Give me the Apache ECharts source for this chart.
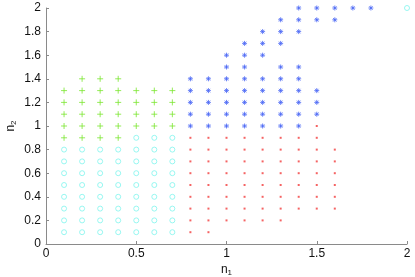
<!DOCTYPE html>
<html><head><meta charset="utf-8">
<script src="https://cdn.jsdelivr.net/npm/echarts@6/dist/echarts.min.js"></script>
<style>html,body{margin:0;padding:0;background:#fff}#c{width:415px;height:277px}</style>
</head><body><div id="c"></div>
<script>
// rows: [y, [x values]]
const cyanRows = [
  [0.1, [0.1,0.2,0.3,0.4,0.5,0.6,0.7]],
  [0.2, [0.1,0.2,0.3,0.4,0.5,0.6,0.7]],
  [0.3, [0.1,0.2,0.3,0.4,0.5,0.6,0.7]],
  [0.4, [0.1,0.2,0.3,0.4,0.5,0.6,0.7]],
  [0.5, [0.1,0.2,0.3,0.4,0.5,0.6,0.7]],
  [0.6, [0.1,0.2,0.3,0.4,0.5,0.6,0.7]],
  [0.7, [0.1,0.2,0.3,0.4,0.5,0.6,0.7]],
  [0.8, [0.1,0.2,0.3,0.4,0.5,0.6,0.7]],
  [0.9, [0.5,0.6,0.7]],
  [2.0, [2.0]]
];
const greenRows = [
  [0.9, [0.1,0.2,0.3,0.4]],
  [1.0, [0.1,0.2,0.3,0.4,0.5,0.6,0.7]],
  [1.1, [0.1,0.2,0.3,0.4,0.5,0.6,0.7]],
  [1.2, [0.1,0.2,0.3,0.4,0.5,0.6,0.7]],
  [1.3, [0.1,0.2,0.3,0.4,0.5,0.6,0.7]],
  [1.4, [0.2,0.3,0.4]]
];
const redRows = [
  [0.1, [0.8,0.9]],
  [0.2, [0.8,0.9,1.0,1.1,1.2,1.3]],
  [0.3, [0.8,0.9,1.0,1.1,1.2,1.3,1.4,1.5,1.6]],
  [0.4, [0.8,0.9,1.0,1.1,1.2,1.3,1.4,1.5,1.6]],
  [0.5, [0.8,0.9,1.0,1.1,1.2,1.3,1.4,1.5,1.6]],
  [0.6, [0.8,0.9,1.0,1.1,1.2,1.3,1.4,1.5,1.6]],
  [0.7, [0.8,0.9,1.0,1.1,1.2,1.3,1.4,1.5,1.6]],
  [0.8, [0.8,0.9,1.0,1.1,1.2,1.3,1.4,1.5,1.6]],
  [0.9, [0.8,0.9,1.0,1.1,1.2,1.3,1.4,1.5]],
  [1.0, [1.5]]
];
const blueRows = [
  [1.0, [0.8,0.9,1.0,1.1,1.2,1.3,1.4]],
  [1.1, [0.8,0.9,1.0,1.1,1.2,1.3,1.4,1.5]],
  [1.2, [0.8,0.9,1.0,1.1,1.2,1.3,1.4,1.5]],
  [1.3, [0.8,0.9,1.0,1.1,1.2,1.3,1.4,1.5]],
  [1.4, [0.8,0.9,1.0,1.1,1.2,1.3,1.4]],
  [1.5, [1.0,1.1,1.3,1.4]],
  [1.6, [1.0,1.1,1.2]],
  [1.7, [1.1,1.2,1.3]],
  [1.8, [1.2,1.3,1.4]],
  [1.9, [1.3,1.4,1.5,1.6]],
  [2.0, [1.4,1.5,1.6,1.7,1.8]]
];
const xTicks = [0, 0.5, 1, 1.5, 2];
const yTicks = [0, 0.2, 0.4, 0.6, 0.8, 1, 1.2, 1.4, 1.6, 1.8, 2];

function pts(rows){ const out=[]; rows.forEach(r=>r[1].forEach(x=>out.push([x,r[0]]))); return out; }

const chart = echarts.init(document.getElementById('c'), null, {renderer:'canvas'});
const font = 'Liberation Sans, Arial, Helvetica, sans-serif';
const axisCommon = {
  axisLine:{show:true, onZero:false, lineStyle:{color:'#8a8a8a', width:1}},
  axisTick:{show:true, inside:true, length:3, lineStyle:{color:'#8a8a8a'}},
  splitLine:{show:false},
  axisLabel:{color:'#111', fontSize:12, fontFamily:font}
};
chart.setOption({
  animation:false,
  backgroundColor:'#fff',
  grid:{left:46, right:8, top:8, bottom:33, containLabel:false, outerBoundsMode:'none'},
  xAxis: Object.assign({}, axisCommon, {
    type:'value', min:xTicks[0], max:xTicks[xTicks.length-1], interval:0.5,
    axisLabel:Object.assign({}, axisCommon.axisLabel, {margin:4, formatter:v=>String(v)}),
    name:'{n|n}{s|1}', nameLocation:'middle', nameGap:19, nameMoveOverlap:false,
    nameTextStyle:{rich:{n:{fontSize:12, fontFamily:font, color:'#111'}, s:{fontSize:8, fontFamily:font, color:'#111', verticalAlign:'bottom', padding:[6,0,0,0]}}}
  }),
  yAxis: Object.assign({}, axisCommon, {
    type:'value', min:yTicks[0], max:yTicks[yTicks.length-1], interval:0.2,
    axisLabel:Object.assign({}, axisCommon.axisLabel, {margin:5, formatter:v=>String(+v.toFixed(1))}),
    name:'{n|n}{s|2}', nameLocation:'middle', nameGap:28, nameRotate:90, nameMoveOverlap:false,
    nameTextStyle:{rich:{n:{fontSize:12, fontFamily:font, color:'#111'}, s:{fontSize:8, fontFamily:font, color:'#111', verticalAlign:'bottom', padding:[6,0,0,0]}}}
  }),
  series:[
    {type:'scatter', data:pts(cyanRows), symbol:'circle', symbolSize:5,
     itemStyle:{color:'rgba(0,0,0,0)', borderColor:'#7ff5ee', borderWidth:1}},
    {type:'scatter', data:pts(greenRows), symbol:'path://M0,-1L0,1M-1,0L1,0', symbolSize:6,
     itemStyle:{color:'rgba(0,0,0,0)', borderColor:'#7ae62e', borderWidth:1}},
    {type:'scatter', data:pts(redRows), symbol:'rect', symbolSize:[2,2],
     itemStyle:{color:'#f23c3c'}},
    {type:'scatter', data:pts(blueRows), symbol:'path://M0,-1L0,1M-1,0L1,0M-0.7,-0.7L0.7,0.7M-0.7,0.7L0.7,-0.7', symbolSize:5,
     itemStyle:{color:'rgba(0,0,0,0)', borderColor:'#4a66f5', borderWidth:1}}
  ]
});
</script></body></html>
